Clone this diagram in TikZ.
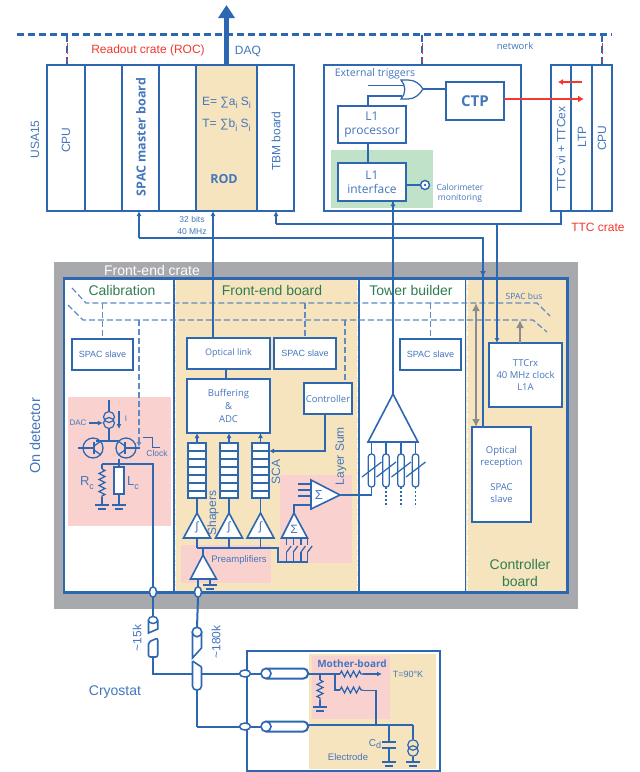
\documentclass[tikz,border=0pt]{standalone}
\usepackage{fontspec}
\setmainfont{Liberation Sans}
\newfontfamily\myr{Open Sans}
\usetikzlibrary{arrows.meta,calc,shapes.geometric,decorations.pathmorphing}
\definecolor{bl}{HTML}{2E67B1}
\definecolor{tx}{HTML}{4476BC}
\definecolor{lbl}{HTML}{5F8AC4}
\definecolor{org}{HTML}{F6E4BF}
\definecolor{pnk}{HTML}{F9D2CF}
\definecolor{grn}{HTML}{BFE2C8}
\definecolor{gry}{HTML}{A7A9AC}
\definecolor{arg}{HTML}{8C8C8C}
\definecolor{rd}{HTML}{F2382F}
\definecolor{gt}{HTML}{2E7D4F}
\newcommand{\fs}[1]{\fontsize{#1}{\fpeval{#1*1.2}}\selectfont}
\newcommand{\lowsub}[1]{\raisebox{-0.55ex}{\fontsize{9}{9}\selectfont #1}}
\newcommand{\bxx}[7][]{%
  \pgfmathsetmacro\cxx{(#3+#5)/2}\pgfmathsetmacro\cyy{(#4+#6)/2}%
  \pgfmathsetmacro\wdd{abs(#5-#3)}\pgfmathsetmacro\htt{abs(#6-#4)}%
  \node[boxn,#1,minimum width=\wdd pt,minimum height=\htt pt] (#2) at (\cxx,\cyy) {#7};}
\tikzset{
  boxn/.style={draw=bl,line width=2pt,fill=white,inner sep=0pt,outer sep=0pt,text=tx,align=center,font=\fs{9}},
  wire/.style={draw=bl,line width=1.25pt},
  fatw/.style={draw=bl,line width=2pt},
  arw/.style={-{Latex[length=5pt,width=5pt]}},
  bus/.style={draw=lbl,line width=1.2pt,dash pattern=on 6pt off 3pt},
  net/.style={draw=bl,line width=2.2pt,dash pattern=on 7pt off 4pt},
  lab/.style={text=tx,inner sep=0pt,align=center},
  rlab/.style={lab,rotate=90},
  ttl/.style={text=gt,inner sep=0pt,align=center,font=\fs{14}},
  rzig/.style={decorate,decoration={zigzag,segment length=6pt,amplitude=3pt},wire},
  tri/.style={draw=bl,line width=1.6pt,fill=white,line join=miter},
  gnd/.style={draw=bl,line width=1.5pt},
  divd/.style={draw=white,line width=1.2pt,dash pattern=on 5pt off 2pt on 1.2pt off 2pt},
  port/.style={ellipse,draw=bl,line width=1.5pt,fill=white,inner sep=0pt,outer sep=0pt},
}
\begin{document}
\begin{tikzpicture}[x=1pt,y=-1pt]
\useasboundingbox (0,0) rectangle (640,772);
\fill[white] (0,0) rectangle (640,772);

% ---------- network
\coordinate (netL) at (17,34.5); \coordinate (netR) at (612,34.5);
\draw[net] (netL) -- (netR);
\node[lab,text=rd,font=\fs{12}] (tRoc) at (148,50) {Readout crate (ROC)};
\node[lab,font=\fs{12}] (tDaq) at (248,51) {DAQ};
\node[lab,font=\myr\fs{9.5}] (tNet) at (515,46) {network};

% ---------- ROC crate
\bxx{cCpu}{47}{65}{84.5}{211}{}
\bxx{cB}{84.5}{65}{122}{211}{}
\bxx{cSpac}{122}{65}{159}{211}{}
\bxx{cD}{159}{65}{196}{211}{}
\bxx[fill=org]{cRod}{196}{65}{257}{211}{}
\bxx{cTbm}{257}{65}{294}{211}{}
\node[rlab,font=\fs{12}] (tUsa) at (35,139.5) {USA15};
\node[rlab,font=\fs{12}] (tCpu) at (66,140) {CPU};
\node[rlab,font=\myr\bfseries\fs{12.5}] (tSpac) at (141,137) {SPAC master board};
\node[lab,font=\fs{12}] (tE) at (226.5,103) {E= ∑a\lowsub{i} S\lowsub{i}};
\node[lab,font=\fs{12}] (tT) at (226.5,125) {T= ∑b\lowsub{i} S\lowsub{i}};
\node[lab,font=\myr\bfseries\fs{12.5}] (tRod) at (224,179) {ROD};
\node[rlab,font=\fs{12}] (tTbm) at (276,141) {TBM board};
\coordinate (daqTip) at (226.5,5);
\draw[draw=bl,line width=5pt,-{Triangle[length=13pt,width=16pt]}] (cRod.north -| daqTip) -- (daqTip);
\draw[net] (67,34.5) -- (cCpu.north -| 67,0);
\draw[draw=rd,line width=.7pt,dash pattern=on 3pt off 5pt,dash phase=-3pt] (67,40) -- (cCpu.north -| 67,0);

% ---------- Trigger box
\bxx{trig}{324}{65}{521}{211}{}
\fill[grn] (331,150) rectangle (433,208);
\node[lab,font=\myr\fs{10.5}] (tExt) at (375,74) {External triggers};
\bxx[font=\myr\bfseries\fs{15}]{ctp}{446}{82}{504}{120}{CTP}
\bxx[font=\myr\fs{12}]{lproc}{338}{106}{406}{143}{L1\\processor}
\bxx[font=\myr\fs{12}]{lint}{338}{163}{406}{201}{L1\\interface}
\coordinate (orT) at (404,85.7); \coordinate (orB) at (402,96); \coordinate (orO) at (423,89);
\draw[wire] (368,85.7) -- (orT);
\draw[wire] (lproc.north -| 368,0) |- (orB);
\draw[wire,fill=white] (401,80) .. controls (406,85) and (406,94) .. (401,99) -- (408,99) .. controls (415,99) and (420,94) .. (orO) .. controls (420,84) and (415,80) .. (408,80) -- cycle;
\draw[wire] (orO) -- (ctp.west |- orO);
\draw[wire] (lproc.south -| 368,0) -- (lint.north -| 368,0);
\node[circle,draw=bl,line width=1.4pt,fill=white,minimum size=9pt,inner sep=0pt] (mon) at (425,185) {};
\fill[bl] (mon.center) circle (1.4pt);
\draw[draw=bl,line width=2.4pt] (lint.east |- mon) -- (mon.west);
\node[lab,font=\myr\fs{8.5},text=tx] (tCal) at (460,193.5) {Calorimeter\\[-.5pt]monitoring};

% ---------- TTC crate
\bxx{ttc1}{551}{65}{571}{211}{}
\bxx{ttc2}{571}{65}{592}{211}{}
\bxx{ttc3}{592}{65}{612}{211}{}
\node[rlab,font=\fs{12}] (tTtc) at (561,149) {TTC vi + TTCex};
\node[rlab,font=\fs{12}] (tLtp) at (582,137) {LTP};
\node[rlab,font=\fs{12}] (tCp2) at (602,138) {CPU};
\node[lab,text=rd,font=\fs{12}] (tCrate) at (598,227) {TTC crate};
\draw[draw=rd,line width=2.8pt,-{Latex[length=6pt,width=7pt]}] (ctp.east |- 0,99) -- (584,99);
\draw[draw=rd,line width=1.8pt,-{Latex[length=5pt,width=6pt]}] (582,82) -- (558,82);
\draw[net] (422,34.5) -- (trig.north -| 422,0);
\draw[net] (602,34.5) -- (ttc3.north -| 602,0);
\draw[draw=rd,line width=.7pt,dash pattern=on 3pt off 5pt,dash phase=-3pt] (422,40) -- (trig.north -| 422,0);
\draw[draw=rd,line width=.7pt,dash pattern=on 3pt off 5pt,dash phase=-3pt] (602,40) -- (ttc3.north -| 602,0);

% ---------- Front-end crate
\fill[gry] (54,262) rectangle (578,609);
\node[lab,text=white,font=\fs{14}] (tFe) at (152,270) {Front-end crate};
\fill[white] (64,278.5) rectangle (567.5,592.5);
\fill[org] (174,278.5) rectangle (359,592.5);
\fill[org] (466,278.5) rectangle (567.5,592.5);
\draw[draw=bl,line width=2.2pt] (64,278.5) rectangle (567.5,592.5);
\draw[draw=bl,line width=1.8pt] (174,278.5) -- (174,592.5);
\draw[draw=bl,line width=1.8pt] (359,278.5) -- (359,592.5);
\draw[draw=bl,line width=1.8pt] (465.5,278.5) -- (465.5,592.5);
\draw[divd] (175.6,280) -- (175.6,591);
\draw[divd] (357.4,280) -- (357.4,591);
\draw[divd] (467.1,280) -- (467.1,591);
\fill[pnk] (68,397) rectangle (171,526);
\fill[pnk] (181,545) rectangle (271,583);
\fill[pnk] (280,475) rectangle (352,563);
\node[ttl] (tCalib) at (122,290) {Calibration};
\node[ttl] (tFeb) at (272,290) {Front-end board};
\node[ttl] (tTow) at (411,290) {Tower builder};
\node[ttl] (tCb) at (520,573) {Controller\\board};
\node[rlab,font=\fs{14.5}] (tOn) at (35,436) {On detector};

% SPAC bus
\coordinate (bA) at (72,288); \coordinate (bB) at (86,303); \coordinate (bC) at (537,303); \coordinate (bD) at (550,316);
\coordinate (bE) at (68,305); \coordinate (bF) at (83,320); \coordinate (bG) at (533,320); \coordinate (bH) at (547,332);
\draw[bus] (bA) -- (bB) -- (bC) -- (bD);
\draw[bus] (bE) -- (bF) -- (bG) -- (bH);
\node[lab,font=\myr\fs{8.5}] (tBus) at (524,296) {SPAC bus};

% boxes
\bxx{sl1}{72}{339}{133}{370}{SPAC slave}
\bxx[font=\myr\fs{9}]{opt}{187}{338}{270}{369}{Optical link}
\bxx{sl2}{274}{338}{336}{369}{SPAC slave}
\bxx[font=\myr\fs{9.5}]{buf}{187}{379}{270}{433}{Buffering\\[2pt]\&\\[2pt]ADC}
\bxx[font=\myr\fs{9.5}]{ctl}{304}{383}{352}{414}{Controller}
\bxx{sl3}{400}{339}{461}{370}{SPAC slave}
\bxx[font=\myr\fs{9.5}]{ttcrx}{489}{343}{562}{407}{TTCrx\\[1pt]40 MHz clock\\[1pt]L1A}
\bxx[font=\myr\fs{9.5}]{orec}{472}{427}{531}{522}{Optical\\[1pt]reception\\[13pt]SPAC\\[1pt]slave}
\draw[bus] (bB -| sl1.north) -- (sl1.north);
\draw[bus] (bB -| sl2.north) -- (sl2.north);
\draw[bus] (bB -| sl3.north) -- (sl3.north);
\draw[bus] (bF -| 345,0) -- (ctl.north -| 345,0);
\draw[wire] (opt.south -| 226,0) -- (buf.north -| 226,0);

% gray arrows
\draw[draw=arg,line width=2.4pt,{Latex[length=8pt,width=8pt]}-{Latex[length=8pt,width=8pt]}] (476,303) -- (orec.north -| 476,0);
\draw[draw=arg,line width=2.8pt,-{Latex[length=8pt,width=8pt]}] (ttcrx.north -| 520,0) -- (520,320);

% long links
\coordinate (lk1) at (139,237.5); \coordinate (lk2) at (483,237.5);
\coordinate (lk3) at (276,223.5); \coordinate (lk4) at (561,223.5); \coordinate (lk5) at (497,223.5);
\draw[fatw,arw] (lk1) -- (cSpac.south -| lk1);
\draw[fatw] (lk1) -- (lk2) -- (orec.north -| lk2);
\draw[draw=bl,line width=1pt,-{Latex[length=6pt,width=6pt]}] (lk2|-0,262) -- (lk2|-0,277);
\draw[fatw,arw] (lk3) -- (cTbm.south -| lk3);
\draw[fatw] (lk3) -- (lk4) -- (ttc1.south -| lk4);
\draw[fatw,arw] (lk5) -- (ttcrx.north -| lk5);
\draw[fatw,arw] (opt.north -| 213,0) -- (cRod.south -| 213,0);
\node[lab,font=\fs{8.5}] (t32) at (192,225.5) {32 bits\\[1.5pt]40 MHz};

% ---------- FE SCA / shapers
\foreach \n/\xa/\xb/\xc in {1/188/206/197,2/220/238/229,3/252/269/260.5}{
  \bxx[line width=1.5pt]{sca\n}{\xa}{443}{\xb}{498}{}
  \foreach \yy in {451,459,467,475,483,491}{\draw[draw=bl,line width=1.5pt] (sca\n.west |- 0,\yy) -- (sca\n.east |- 0,\yy);}
  \draw[wire,arw] (sca\n.north -| \xc,0) -- (buf.south -| \xc,0);
  \draw[wire] (sca\n.south -| \xc,0) -- (\xc,513);
  \draw[wire] (\xc,538) -- (\xc,548);
  \draw[tri] (\xc,513) -- (\xc-13.5,538) -- (\xc+13.5,538) -- cycle;
  \node[lab,font=\fs{12}] (int\n) at (\xc,527) {∫};
}
\node[rlab,font=\fs{12}] (tSh) at (213,513) {Shapers};
\node[rlab,font=\fs{12}] (tSca) at (276,472) {SCA};
\node[rlab,font=\fs{12}] (tLs) at (341,456) {Layer Sum};
\node[lab,font=\fs{9.5}] (tPre) at (239,560) {Preamplifiers};
\draw[wire,arw] (ctl.south -| 325,0) -- (325,451) -- (sca3.east |- 0,451);
\coordinate (sw) at (278,548);
\draw[wire] (197,548) -- (sw) |- (308,562);

% preamp
\coordinate (pin) at (198,592);
\draw[wire] (203,548) -- (203,555);
\draw[tri] (203,555) -- (190.5,579) -- (216.5,579) -- cycle;
\draw[wire] (pin |- 0,579) -- (pin);
\draw[wire] (210,579) -- (210,585);
\draw[gnd] (203,585) -- (217,585); \draw[gnd] (206,589) -- (214,589);

% layer sum
\draw[tri] (294,513) -- (281.5,538) -- (307.5,538) -- cycle;
\node[lab,font=\fs{12}] (sgS) at (294,529) {Σ};
\foreach \xx in {286.7,293.3,301,307.7}{
  \draw[wire] (\xx,538) -- (\xx,545);
  \draw[wire] (\xx,552) -- (\xx,562);
  \draw[wire] (\xx,552) -- (\xx+4.5,546);
}
\foreach \yy in {484,490,496}{\draw[wire] (298,\yy) -- (311,\yy);}
\draw[wire] (294,513) -- (294,505) -- (311,505);
\draw[tri] (311,480) -- (340,495) -- (311,509) -- cycle;
\node[lab,font=\fs{13}] (sgB) at (319,495) {Σ};
\coordinate (lsOut) at (340,495);
\draw[wire,line width=1.5pt] (lsOut) -- (371.5,495) -- (371.5,487);

% tower builder
\coordinate (apx) at (393,394);
\draw[fatw] (lint.south -| apx) -- (apx);
\draw[fatw,arw] (393,206) -- (lint.south -| apx);
\draw[tri,fill=white] (apx) -- (368,442) -- (418,442) -- cycle;
\foreach \xx in {371.5,386,401,415.5}{
  \draw[wire] (\xx,442) -- (\xx,454);
  \draw[wire,rounded corners=3pt,fill=white] (\xx-3.3,454) rectangle (\xx+3.3,487);
  \draw[wire] (\xx-9.5,477) -- (\xx+10,462);
}
\foreach \xx in {386,401,415.5}{\draw[draw=bl,line width=1.3pt,dash pattern=on 2pt off 2pt] (\xx,487) -- (\xx,507);}

% ---------- calibration circuit
\coordinate (cin) at (153,592);
\draw[bus,arw] (139,320) -- (139,447);
\draw[wire] (109,400) -- (109,412);
\node[circle,draw=bl,line width=1.2pt,minimum size=11pt,inner sep=0pt] (cs1) at (109,417) {};
\node[circle,draw=bl,line width=1.2pt,minimum size=11pt,inner sep=0pt] (cs2) at (109,423) {};
\draw[wire,arw] (119,411) -- (119,429);
\node[lab,font=\fs{8}] (tI) at (126,419) {I};
\node[lab,font=\fs{8}] (tDac) at (78,423) {DAC};
\draw[wire,arw] (89,423) -- (cs2.west);
\node[circle,draw=bl,line width=1.3pt,minimum size=20pt,inner sep=0pt] (q1) at (93,448) {};
\node[circle,draw=bl,line width=1.3pt,minimum size=20pt,inner sep=0pt] (q2) at (126,448) {};
\draw[wire] (cs2.south) -- (109,441);
\draw[wire] (96,441) -- (119,441);
\draw[draw=bl,line width=2.4pt] (94,442) -- (94,454);
\draw[draw=bl,line width=2.4pt] (125,442) -- (125,454);
\draw[wire] (78,448) -- (94,448);
\draw[wire] (125,448) -- (140,448);
\draw[wire] (94,446) -- (101,441); \draw[wire] (94,450) -- (101,455);
\draw[wire] (125,446) -- (118,441); \draw[wire] (125,450) -- (118,455);
\draw[wire,line width=1pt] (143,437) -- (152,437) -- (152,447) -- (160,447);
\node[lab,font=\fs{8.5}] (tClk) at (157,453.5) {Clock};
\draw[wire] (q2.south -| 119,0) -- (119,464);
\coordinate (calN) at (153,464);
\draw[wire] (102,464) -- (calN) -- (cin);
\draw[wire] (102,464) -- (102,469);
\draw[rzig] (102,469) -- (102,497);
\draw[wire] (102,497) -- (102,505);
\draw[wire] (119,464) -- (119,505);
\draw[wire,fill=white,line width=1.5pt] (114,467) rectangle (124,494);
\draw[gnd] (95,505) -- (109,505); \draw[gnd] (98,509) -- (106,509);
\draw[gnd] (112,505) -- (126,505); \draw[gnd] (115,509) -- (123,509);
\node[lab,font=\fs{13}] (tRc) at (87,483) {R\lowsub{c}};
\node[lab,font=\fs{13}] (tLc) at (133,483) {L\lowsub{c}};

% ---------- ports and cables
\node[port,minimum width=7pt,minimum height=10.5pt] (p1) at (153,592) {};
\node[port,minimum width=7pt,minimum height=10.5pt] (p2) at (198,592) {};

\coordinate (n1) at (245,673.5); \coordinate (n2) at (245,726.5);
% cable 1
\draw[fatw] (p1.south) -- (153,617);
\draw[fatw,line width=1.6pt] (148.5,620) -- (148.5,633) -- (157.7,629) -- (157.7,620);
\draw[fatw,line width=1.4pt,fill=white] (153,620) ellipse (4.6pt and 3.5pt);
\draw[fatw,line width=1.6pt,rounded corners=2pt] (157.7,638) -- (157.7,657) -- (148.5,657) -- (148.5,642) -- cycle;
\draw[fatw] (153,657) -- (153,674) -- (192.5,674);
% cable 2
\draw[fatw] (p2.south) -- (197,628);
\draw[fatw,line width=1.6pt] (192.5,632) -- (192.5,658) -- (201.5,648) -- (201.5,632);
\node[circle,draw=bl,line width=1.6pt,fill=white,minimum size=9.5pt,inner sep=0pt] (c2top) at (197,632) {};
\draw[fatw,line width=1.6pt,rounded corners=4pt] (201.5,667) -- (201.5,690) -- (192.5,690) -- (192.5,661);
\draw[fatw,line width=1.6pt] (192.5,661) -- (201.5,667);
\draw[fatw] (197,690) -- (197,726.5);

% cryostat box
\bxx{cry}{247}{651}{440}{771}{}
\fill[org] (309,654) rectangle (436,769);
\fill[pnk] (312,656) rectangle (390,719);
\draw[fatw] (201.5,673.5) -- (n1);
\draw[fatw] (197,726.5) -- (n2);
\node[port,minimum width=11pt,minimum height=7pt] (p3) at (n1) {};
\node[port,minimum width=11pt,minimum height=7pt] (p4) at (n2) {};
\foreach \yy/\nn/\cc in {673.5/a/p3,726.5/b/p4}{
  \draw[fatw] (\cc.east) -- (262,\yy);
  \draw[fatw,fill=white,rounded corners=4.5pt] (262,\yy-5) rectangle (308,\yy+5);
  \node[circle,draw=bl,line width=1.6pt,fill=white,minimum size=10pt,inner sep=0pt] (cap\nn) at (266,\yy) {};
}
\node[lab,font=\myr\bfseries\fs{10}] (tMb) at (352,663.5) {Mother-board};
\node[lab,font=\fs{9}] (tTem) at (408,674.5) {T=90°K};
\node[lab,font=\fs{9.5}] (tEl) at (348,757) {Electrode};
\node[lab,font=\fs{10}] (tCd) at (375,744) {C\lowsub{d}};
\node[rlab,font=\fs{12}] (t15) at (137,638) {\textasciitilde 15k};
\node[rlab,font=\fs{12}] (t180) at (216,642) {\textasciitilde 180k};
\node[lab,font=\fs{14}] (tCry) at (115,692) {Cryostat};
% mother board circuit
\coordinate (ra) at (335,674); \coordinate (rb) at (320,674);
\draw[wire] (308,674) -- (340,674);
\draw[rzig] (340,674) -- (363,674);
\draw[wire,arw] (363,674) -- (382,674);
\draw[wire] (rb) -- (320,680);
\draw[rzig] (320,680) -- (320,700);
\draw[wire] (320,700) -- (320,707);
\draw[gnd] (313,707) -- (327,707); \draw[gnd] (316,711) -- (324,711);
\draw[wire] (ra) -- (335,690) -- (340,690);
\draw[rzig] (340,690) -- (363,690);
\coordinate (drop) at (376,725);
\draw[wire] (363,690.5) -- (376,690.5) -- (drop);
\draw[wire] (308,725) -- (413,725);
\draw[wire] (389,725) -- (389,742);
\draw[draw=bl,line width=2.4pt] (382,742) -- (396,742);
\draw[draw=bl,line width=2.4pt] (382,748) -- (396,748);
\draw[wire] (389,748) -- (389,762);
\draw[gnd] (382,762) -- (396,762); \draw[gnd] (385,766) -- (393,766);
\node[circle,draw=bl,line width=1.2pt,minimum size=10.5pt,inner sep=0pt] (cd1) at (413,745) {};
\node[circle,draw=bl,line width=1.2pt,minimum size=10.5pt,inner sep=0pt] (cd2) at (413,751) {};
\draw[wire] (413,725) -- (cd1.north);
\draw[wire] (cd2.south) -- (413,762);
\draw[gnd] (406,762) -- (420,762); \draw[gnd] (409,766) -- (417,766);
\end{tikzpicture}
\end{document}
